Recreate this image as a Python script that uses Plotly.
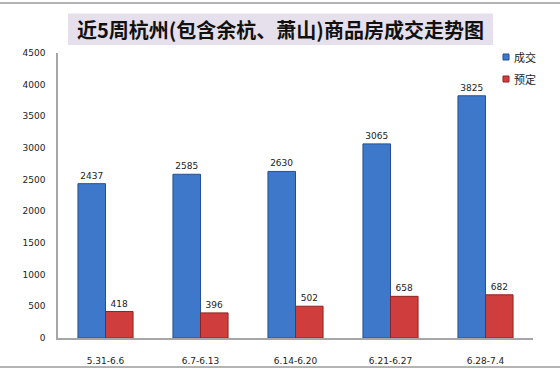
import plotly.graph_objects as go

categories = ["5.31-6.6", "6.7-6.13", "6.14-6.20", "6.21-6.27", "6.28-7.4"]
series_names = ["成交", "预定"]
deal_values = [2437, 2585, 2630, 3065, 3825]
reserve_values = [418, 396, 502, 658, 682]
y_ticks = [0, 500, 1000, 1500, 2000, 2500, 3000, 3500, 4000, 4500]
title_text = "近5周杭州(包含余杭、萧山)商品房成交走势图"

blue = "#3D78CB"
blue_edge = "#24508F"
red = "#CF3E3C"
red_edge = "#8E2422"

W, H = 560, 370
L, R, T, B = 58, 27, 53, 32
pw = W - L - R
ph = H - T - B

def px_x(x):
    return (x - L) / pw

def px_y(y):
    return (H - B - y) / ph

tick_font = dict(family="DejaVu Sans, Verdana", size=9, color="#222222")

fig = go.Figure()
for name, vals, col, edge in [(series_names[0], deal_values, blue, blue_edge),
                              (series_names[1], reserve_values, red, red_edge)]:
    fig.add_trace(go.Bar(
        x=categories, y=vals, name=name,
        marker=dict(color=col, line=dict(color=edge, width=1)),
        text=[str(v) for v in vals], textposition="outside",
        textfont=tick_font,
        cliponaxis=False, showlegend=False,
    ))

fig.update_layout(
    width=W, height=H,
    margin=dict(l=L, r=R, t=T, b=B, autoexpand=False),
    paper_bgcolor="white", plot_bgcolor="white",
    barmode="group", bargap=0.42, bargroupgap=0,
    font=tick_font,
)
fig.update_yaxes(range=[0, 4500], tickvals=y_ticks, showgrid=False, zeroline=False,
                 showline=True, linecolor="#A6A6A6", linewidth=1.5,
                 ticks="", ticklabelstandoff=9, automargin=False,
                 tickfont=tick_font)
fig.update_xaxes(showgrid=False, showline=True, linecolor="#A6A6A6", linewidth=1.5,
                 ticks="", ticklabelstandoff=13, automargin=False,
                 tickfont=tick_font)

shapes = []
# title box
shapes.append(dict(type="rect", xref="paper", yref="paper",
                   x0=px_x(68), x1=px_x(493), y0=px_y(45), y1=px_y(13.5),
                   fillcolor="#E5E0EC", line=dict(width=0), layer="below"))
# sheet borders
shapes.append(dict(type="line", xref="paper", yref="paper",
                   x0=px_x(0), x1=px_x(W), y0=px_y(3), y1=px_y(3),
                   line=dict(color="#B4B4B4", width=2)))
shapes.append(dict(type="line", xref="paper", yref="paper",
                   x0=px_x(0), x1=px_x(W), y0=px_y(367), y1=px_y(367),
                   line=dict(color="#B4B4B4", width=2)))
# legend swatches
for i, (col, edge) in enumerate([(blue, blue_edge), (red, red_edge)]):
    yc = 57 + 22 * i
    shapes.append(dict(type="rect", xref="paper", yref="paper",
                       x0=px_x(503), x1=px_x(509), y0=px_y(yc + 3), y1=px_y(yc - 3),
                       fillcolor=col, line=dict(color=edge, width=1)))
fig.update_layout(shapes=shapes)

annotations = [dict(text=title_text, xref="paper", yref="paper",
                    x=px_x(280), y=px_y(29.5), xanchor="center", yanchor="middle",
                    showarrow=False,
                    font=dict(family="Noto Sans CJK SC", size=20, color="#111111", weight="bold"))]
for i, name in enumerate(series_names):
    yc = 57 + 22 * i
    annotations.append(dict(text=name, xref="paper", yref="paper",
                            x=px_x(512), y=px_y(yc), xanchor="left", yanchor="middle",
                            showarrow=False,
                            font=dict(family="Noto Sans CJK SC", size=11, color="#222222")))
fig.update_layout(annotations=annotations)

fig.write_html("out.html",
               config={"displayModeBar": False},
               post_script="document.body.style.margin='0';document.body.style.padding='0';")
